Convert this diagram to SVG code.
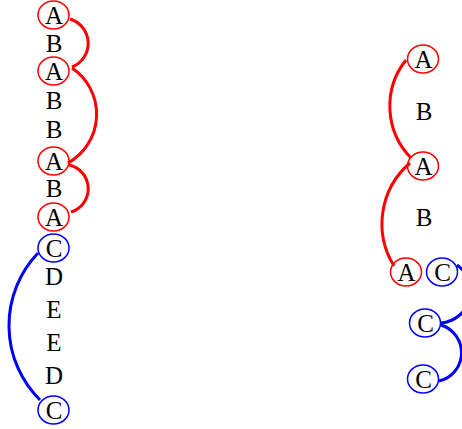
<svg xmlns="http://www.w3.org/2000/svg" width="462" height="429" viewBox="0 0 462 429">
<style>
text{font-family:"Liberation Serif","Times New Roman",serif;font-size:25px;fill:#000;text-anchor:middle}
.r{fill:none;stroke:#ff0000;stroke-width:1.5}
.b{fill:none;stroke:#0000ff;stroke-width:1.5}
.ar{fill:none;stroke:#ff0000;stroke-width:3}
.ab{fill:none;stroke:#0000ff;stroke-width:3}
</style>
<rect width="462" height="429" fill="#fff"/>
<g id="connectors">
<path class="ar" d="M70,19 A25.4,25.4 0 0 1 72,67"/>
<path class="ar" d="M72,68 A55.8,55.8 0 0 1 68,163"/>
<path class="ar" d="M69,165 A24.3,24.3 0 0 1 71,212"/>
<path class="ab" d="M38,253 A105,105 0 0 0 40,400"/>
<path class="ar" d="M406,60 A74,74 0 0 0 411,158"/>
<path class="ar" d="M410,163 A80,80 0 0 0 394,266"/>
<path class="ab" d="M457,265 A32,32 0 0 1 441,323"/>
<path class="ab" d="M441,325 A29,29 0 0 1 439,381"/>
</g>
<g id="L1"><ellipse class="r" cx="53.5" cy="15" rx="15.5" ry="14"/><text x="54" y="23.5">A</text></g>
<g id="L2"><text x="54" y="52">B</text></g>
<g id="L3"><ellipse class="r" cx="53.5" cy="71" rx="15.5" ry="14"/><text x="54" y="79.5">A</text></g>
<g id="L4"><text x="54" y="109">B</text></g>
<g id="L5"><text x="54" y="138">B</text></g>
<g id="L6"><ellipse class="r" cx="53.5" cy="161" rx="15.5" ry="14"/><text x="54" y="169.5">A</text></g>
<g id="L7"><text x="54" y="197">B</text></g>
<g id="L8"><ellipse class="r" cx="53.5" cy="217" rx="15.5" ry="14"/><text x="54" y="225.5">A</text></g>
<g id="L9"><ellipse class="b" cx="53.5" cy="248" rx="15.5" ry="14"/><text x="54" y="256.5">C</text></g>
<g id="L10"><text x="54" y="285">D</text></g>
<g id="L11"><text x="54" y="318">E</text></g>
<g id="L12"><text x="54" y="351">E</text></g>
<g id="L13"><text x="54" y="384">D</text></g>
<g id="L14"><ellipse class="b" cx="53.5" cy="410" rx="15.5" ry="14"/><text x="54" y="418.5">C</text></g>
<g id="R1"><ellipse class="r" cx="423" cy="59" rx="15.5" ry="14"/><text x="423.5" y="67.5">A</text></g>
<g id="R2"><text x="424" y="119.5">B</text></g>
<g id="R3"><ellipse class="r" cx="423" cy="166" rx="15.5" ry="14"/><text x="423.5" y="174.5">A</text></g>
<g id="R4"><text x="424" y="226">B</text></g>
<g id="R5"><ellipse class="r" cx="406" cy="272" rx="15.5" ry="14"/><text x="406.5" y="280.5">A</text></g>
<g id="R6"><ellipse class="b" cx="442" cy="272" rx="15.5" ry="14"/><text x="442.5" y="280.5">C</text></g>
<g id="R7"><ellipse class="b" cx="425" cy="323" rx="15.5" ry="14"/><text x="425.5" y="331.5">C</text></g>
<g id="R8"><ellipse class="b" cx="423" cy="379" rx="15.5" ry="14"/><text x="423.5" y="387.5">C</text></g>
</svg>
